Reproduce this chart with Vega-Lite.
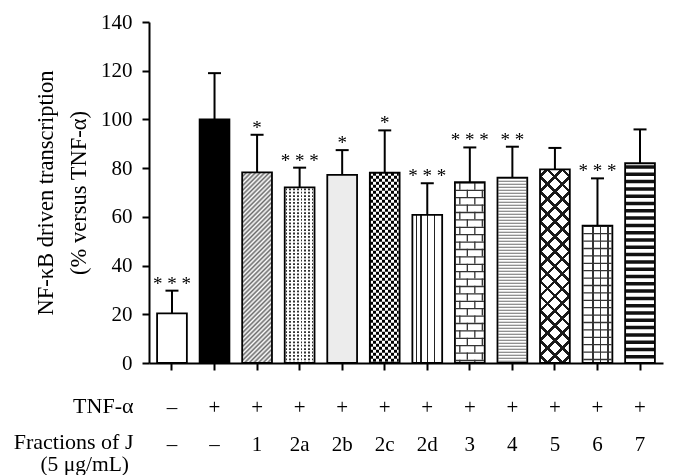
{
  "$schema": "https://vega.github.io/schema/vega-lite/v6.json",
  "width": 514,
  "height": 341,
  "autosize": "none",
  "padding": {"left": 149, "top": 22, "right": 11, "bottom": 112},
  "background": "white",
  "config": {"view": {"stroke": null}, "font": "Liberation Serif"},
  "title": {"text": "(5 μg/mL)", "orient": "bottom", "anchor": "start", "frame": "group", "align": "right", "dx": -20, "offset": 0, "fontSize": 21.5, "fontWeight": "normal", "font": "Liberation Serif", "color": "black", "baseline": "top"},
  "data": {"values": [
    {"group": "–|–", "value": 20.4, "err": 29.7, "stars": "* * *"},
    {"group": "+|–", "value": 100, "err": 119, "stars": ""},
    {"group": "+|1", "value": 78.3, "err": 93.7, "stars": "*"},
    {"group": "+|2a", "value": 72.1, "err": 80.2, "stars": "* * *"},
    {"group": "+|2b", "value": 77.2, "err": 87.4, "stars": "*"},
    {"group": "+|2c", "value": 78.1, "err": 95.5, "stars": "*"},
    {"group": "+|2d", "value": 60.8, "err": 73.8, "stars": "* * *"},
    {"group": "+|3", "value": 74.2, "err": 88.5, "stars": "* * *"},
    {"group": "+|4", "value": 76.1, "err": 88.8, "stars": "* *"},
    {"group": "+|5", "value": 79.5, "err": 88.3, "stars": ""},
    {"group": "+|6", "value": 56.4, "err": 75.8, "stars": "* * *"},
    {"group": "+|7", "value": 82, "err": 95.9, "stars": ""}
  ]},
  "encoding": {
    "x": {
      "field": "group", "type": "nominal",
      "scale": {"domain": ["–|–","+|–","+|1","+|2a","+|2b","+|2c","+|2d","+|3","+|4","+|5","+|6","+|7"], "paddingInner": 0.3, "paddingOuter": 0.19},
      "axis": {
        "title": ["TNF-α", "Fractions of J"],
        "labelExpr": "split(datum.value, '|')",
        "labelAngle": 0, "labelFontSize": 21, "labelLineHeight": 37, "labelPadding": 26, "labelBaseline": "top",
        "labelColor": "black", "tickSize": 7, "tickWidth": 2, "tickColor": "black",
        "domainWidth": 2, "domainColor": "black",
        "titleFontSize": 22, "titleFontWeight": "normal", "titleColor": "black", "titleLineHeight": 36.5,
        "titleAlign": "right", "titleBaseline": "top", "titleX": -16, "titleY": 32
      }
    },
    "y": {
      "field": "value", "type": "quantitative",
      "scale": {"domain": [0, 140], "nice": false},
      "axis": {
        "title": ["NF-κB driven transcription", "(% versus TNF-α)"],
        "values": [0, 20, 40, 60, 80, 100, 120, 140], "grid": false,
        "labelFontSize": 21, "labelPadding": 10, "labelColor": "black",
        "tickSize": 7, "tickWidth": 2, "tickColor": "black",
        "domainWidth": 2, "domainColor": "black",
        "titleFontSize": 22.5, "titleFontWeight": "normal", "titleColor": "black", "titleLineHeight": 33, "titlePadding": 10
      }
    }
  },
  "layer": [
    {
      "mark": {"type": "bar", "strokeWidth": 0},
      "encoding": {
        "fill": {"field": "group", "type": "nominal", "legend": null,
          "scale": {"domain": ["–|–","+|–","+|1","+|2a","+|2b","+|2c","+|2d","+|3","+|4","+|5","+|6","+|7"],
                    "range": ["white","black","white","white","#ececec","white","white","white","white","white","white","white"]}}
      }
    },
    {
      "transform": [{"filter": "datum.group == '+|1'"}],
      "mark": {"type": "bar", "strokeWidth": 0,
        "fill": {"gradient": "linear", "x1": 0, "y1": 0, "x2": 0.1763, "y2": 1.1288, "stops": [
          {"offset": 0, "color": "#6a6a6a"}, {"offset": 0.01042, "color": "#ffffff"},
          {"offset": 0.02083, "color": "#6a6a6a"}, {"offset": 0.03125, "color": "#ffffff"},
          {"offset": 0.04167, "color": "#6a6a6a"}, {"offset": 0.05208, "color": "#ffffff"},
          {"offset": 0.0625, "color": "#6a6a6a"}, {"offset": 0.07292, "color": "#ffffff"},
          {"offset": 0.08333, "color": "#6a6a6a"}, {"offset": 0.09375, "color": "#ffffff"},
          {"offset": 0.10417, "color": "#6a6a6a"}, {"offset": 0.11458, "color": "#ffffff"},
          {"offset": 0.125, "color": "#6a6a6a"}, {"offset": 0.13542, "color": "#ffffff"},
          {"offset": 0.14583, "color": "#6a6a6a"}, {"offset": 0.15625, "color": "#ffffff"},
          {"offset": 0.16667, "color": "#6a6a6a"}, {"offset": 0.17708, "color": "#ffffff"},
          {"offset": 0.1875, "color": "#6a6a6a"}, {"offset": 0.19792, "color": "#ffffff"},
          {"offset": 0.20833, "color": "#6a6a6a"}, {"offset": 0.21875, "color": "#ffffff"},
          {"offset": 0.22917, "color": "#6a6a6a"}, {"offset": 0.23958, "color": "#ffffff"},
          {"offset": 0.25, "color": "#6a6a6a"}, {"offset": 0.26042, "color": "#ffffff"},
          {"offset": 0.27083, "color": "#6a6a6a"}, {"offset": 0.28125, "color": "#ffffff"},
          {"offset": 0.29167, "color": "#6a6a6a"}, {"offset": 0.30208, "color": "#ffffff"},
          {"offset": 0.3125, "color": "#6a6a6a"}, {"offset": 0.32292, "color": "#ffffff"},
          {"offset": 0.33333, "color": "#6a6a6a"}, {"offset": 0.34375, "color": "#ffffff"},
          {"offset": 0.35417, "color": "#6a6a6a"}, {"offset": 0.36458, "color": "#ffffff"},
          {"offset": 0.375, "color": "#6a6a6a"}, {"offset": 0.38542, "color": "#ffffff"},
          {"offset": 0.39583, "color": "#6a6a6a"}, {"offset": 0.40625, "color": "#ffffff"},
          {"offset": 0.41667, "color": "#6a6a6a"}, {"offset": 0.42708, "color": "#ffffff"},
          {"offset": 0.4375, "color": "#6a6a6a"}, {"offset": 0.44792, "color": "#ffffff"},
          {"offset": 0.45833, "color": "#6a6a6a"}, {"offset": 0.46875, "color": "#ffffff"},
          {"offset": 0.47917, "color": "#6a6a6a"}, {"offset": 0.48958, "color": "#ffffff"},
          {"offset": 0.5, "color": "#6a6a6a"}, {"offset": 0.51042, "color": "#ffffff"},
          {"offset": 0.52083, "color": "#6a6a6a"}, {"offset": 0.53125, "color": "#ffffff"},
          {"offset": 0.54167, "color": "#6a6a6a"}, {"offset": 0.55208, "color": "#ffffff"},
          {"offset": 0.5625, "color": "#6a6a6a"}, {"offset": 0.57292, "color": "#ffffff"},
          {"offset": 0.58333, "color": "#6a6a6a"}, {"offset": 0.59375, "color": "#ffffff"},
          {"offset": 0.60417, "color": "#6a6a6a"}, {"offset": 0.61458, "color": "#ffffff"},
          {"offset": 0.625, "color": "#6a6a6a"}, {"offset": 0.63542, "color": "#ffffff"},
          {"offset": 0.64583, "color": "#6a6a6a"}, {"offset": 0.65625, "color": "#ffffff"},
          {"offset": 0.66667, "color": "#6a6a6a"}, {"offset": 0.67708, "color": "#ffffff"},
          {"offset": 0.6875, "color": "#6a6a6a"}, {"offset": 0.69792, "color": "#ffffff"},
          {"offset": 0.70833, "color": "#6a6a6a"}, {"offset": 0.71875, "color": "#ffffff"},
          {"offset": 0.72917, "color": "#6a6a6a"}, {"offset": 0.73958, "color": "#ffffff"},
          {"offset": 0.75, "color": "#6a6a6a"}, {"offset": 0.76042, "color": "#ffffff"},
          {"offset": 0.77083, "color": "#6a6a6a"}, {"offset": 0.78125, "color": "#ffffff"},
          {"offset": 0.79167, "color": "#6a6a6a"}, {"offset": 0.80208, "color": "#ffffff"},
          {"offset": 0.8125, "color": "#6a6a6a"}, {"offset": 0.82292, "color": "#ffffff"},
          {"offset": 0.83333, "color": "#6a6a6a"}, {"offset": 0.84375, "color": "#ffffff"},
          {"offset": 0.85417, "color": "#6a6a6a"}, {"offset": 0.86458, "color": "#ffffff"},
          {"offset": 0.875, "color": "#6a6a6a"}, {"offset": 0.88542, "color": "#ffffff"},
          {"offset": 0.89583, "color": "#6a6a6a"}, {"offset": 0.90625, "color": "#ffffff"},
          {"offset": 0.91667, "color": "#6a6a6a"}, {"offset": 0.92708, "color": "#ffffff"},
          {"offset": 0.9375, "color": "#6a6a6a"}, {"offset": 0.94792, "color": "#ffffff"},
          {"offset": 0.95833, "color": "#6a6a6a"}, {"offset": 0.96875, "color": "#ffffff"},
          {"offset": 0.97917, "color": "#6a6a6a"}, {"offset": 0.98958, "color": "#ffffff"},
          {"offset": 1, "color": "#6a6a6a"}
        ]}}
    },
    {
      "transform": [{"filter": "datum.group == '+|2a'"}],
      "mark": {"type": "rule", "strokeWidth": 28, "strokeDash": [1.8, 1.6], "strokeDashOffset": -1, "color": "#333"},
      "encoding": {"y2": {"datum": 0}}
    },
    {
      "transform": [{"filter": "datum.group == '+|2a'"}],
      "mark": {"type": "bar", "strokeWidth": 0,
        "fill": {"gradient": "linear", "x1": 0, "y1": 0, "x2": 1, "y2": 0, "stops": [
          {"offset": 0, "color": "#ffffff"}, {"offset": 0.03, "color": "#ffffff"}, {"offset": 0.03, "color": "rgba(0,0,0,0)"}, {"offset": 0.09, "color": "rgba(0,0,0,0)"},
          {"offset": 0.09, "color": "#ffffff"}, {"offset": 0.155, "color": "#ffffff"}, {"offset": 0.155, "color": "rgba(0,0,0,0)"}, {"offset": 0.215, "color": "rgba(0,0,0,0)"},
          {"offset": 0.215, "color": "#ffffff"}, {"offset": 0.28, "color": "#ffffff"}, {"offset": 0.28, "color": "rgba(0,0,0,0)"}, {"offset": 0.34, "color": "rgba(0,0,0,0)"},
          {"offset": 0.34, "color": "#ffffff"}, {"offset": 0.405, "color": "#ffffff"}, {"offset": 0.405, "color": "rgba(0,0,0,0)"}, {"offset": 0.465, "color": "rgba(0,0,0,0)"},
          {"offset": 0.465, "color": "#ffffff"}, {"offset": 0.53, "color": "#ffffff"}, {"offset": 0.53, "color": "rgba(0,0,0,0)"}, {"offset": 0.59, "color": "rgba(0,0,0,0)"},
          {"offset": 0.59, "color": "#ffffff"}, {"offset": 0.655, "color": "#ffffff"}, {"offset": 0.655, "color": "rgba(0,0,0,0)"}, {"offset": 0.715, "color": "rgba(0,0,0,0)"},
          {"offset": 0.715, "color": "#ffffff"}, {"offset": 0.78, "color": "#ffffff"}, {"offset": 0.78, "color": "rgba(0,0,0,0)"}, {"offset": 0.84, "color": "rgba(0,0,0,0)"},
          {"offset": 0.84, "color": "#ffffff"}, {"offset": 0.905, "color": "#ffffff"}, {"offset": 0.905, "color": "rgba(0,0,0,0)"}, {"offset": 0.965, "color": "rgba(0,0,0,0)"},
          {"offset": 0.965, "color": "#ffffff"}, {"offset": 1, "color": "#ffffff"}
        ]}}
    },
    {
      "transform": [{"filter": "datum.group == '+|2c'"}],
      "mark": {"type": "rule", "strokeWidth": 28, "strokeDash": [3, 3], "color": "black"},
      "encoding": {"y2": {"datum": 0}}
    },
    {
      "transform": [{"filter": "datum.group == '+|2c'"}],
      "mark": {"type": "bar", "strokeWidth": 0, "blend": "difference",
        "fill": {"gradient": "linear", "x1": 0, "y1": 0, "x2": 1, "y2": 0, "stops": [
          {"offset": 0, "color": "#ffffff"}, {"offset": 0.1, "color": "#ffffff"}, {"offset": 0.1, "color": "rgba(0,0,0,0)"}, {"offset": 0.2, "color": "rgba(0,0,0,0)"},
          {"offset": 0.2, "color": "#ffffff"}, {"offset": 0.3, "color": "#ffffff"}, {"offset": 0.3, "color": "rgba(0,0,0,0)"}, {"offset": 0.4, "color": "rgba(0,0,0,0)"},
          {"offset": 0.4, "color": "#ffffff"}, {"offset": 0.5, "color": "#ffffff"}, {"offset": 0.5, "color": "rgba(0,0,0,0)"}, {"offset": 0.6, "color": "rgba(0,0,0,0)"},
          {"offset": 0.6, "color": "#ffffff"}, {"offset": 0.7, "color": "#ffffff"}, {"offset": 0.7, "color": "rgba(0,0,0,0)"}, {"offset": 0.8, "color": "rgba(0,0,0,0)"},
          {"offset": 0.8, "color": "#ffffff"}, {"offset": 0.9, "color": "#ffffff"}, {"offset": 0.9, "color": "rgba(0,0,0,0)"}, {"offset": 1, "color": "rgba(0,0,0,0)"}
        ]}}
    },
    {
      "transform": [{"filter": "datum.group == '+|2d'"}],
      "mark": {"type": "bar", "strokeWidth": 0,
        "fill": {"gradient": "linear", "x1": 0, "y1": 0, "x2": 1, "y2": 0, "stops": [
          {"offset": 0.11, "color": "rgba(0,0,0,0)"}, {"offset": 0.11, "color": "#222"}, {"offset": 0.155, "color": "#222"}, {"offset": 0.155, "color": "rgba(0,0,0,0)"},
          {"offset": 0.27, "color": "rgba(0,0,0,0)"}, {"offset": 0.27, "color": "#222"}, {"offset": 0.315, "color": "#222"}, {"offset": 0.315, "color": "rgba(0,0,0,0)"},
          {"offset": 0.495, "color": "rgba(0,0,0,0)"}, {"offset": 0.495, "color": "#222"}, {"offset": 0.54, "color": "#222"}, {"offset": 0.54, "color": "rgba(0,0,0,0)"},
          {"offset": 0.715, "color": "rgba(0,0,0,0)"}, {"offset": 0.715, "color": "#222"}, {"offset": 0.76, "color": "#222"}, {"offset": 0.76, "color": "rgba(0,0,0,0)"}
        ]}}
    },
    {
      "transform": [{"filter": "datum.group == '+|3'"}],
      "mark": {"type": "rule", "strokeWidth": 28, "strokeDash": [1.3, 6.1], "color": "#333"},
      "encoding": {"y2": {"datum": 0}}
    },
    {
      "transform": [{"filter": "datum.group == '+|3'"}],
      "mark": {"type": "rule", "xOffset": -10, "strokeWidth": 1.3, "strokeDash": [7.4, 7.4], "strokeDashOffset": 0, "color": "#333"},
      "encoding": {"y2": {"datum": 0}}
    },
    {
      "transform": [{"filter": "datum.group == '+|3'"}],
      "mark": {"type": "rule", "xOffset": 5, "strokeWidth": 1.3, "strokeDash": [7.4, 7.4], "strokeDashOffset": 0, "color": "#333"},
      "encoding": {"y2": {"datum": 0}}
    },
    {
      "transform": [{"filter": "datum.group == '+|3'"}],
      "mark": {"type": "rule", "xOffset": -2.5, "strokeWidth": 1.3, "strokeDash": [7.4, 7.4], "strokeDashOffset": 7.4, "color": "#333"},
      "encoding": {"y2": {"datum": 0}}
    },
    {
      "transform": [{"filter": "datum.group == '+|3'"}],
      "mark": {"type": "rule", "xOffset": 12.5, "strokeWidth": 1.3, "strokeDash": [7.4, 7.4], "strokeDashOffset": 7.4, "color": "#333"},
      "encoding": {"y2": {"datum": 0}}
    },
    {
      "transform": [{"filter": "datum.group == '+|4'"}],
      "mark": {"type": "rule", "strokeWidth": 28, "strokeDash": [1, 2], "color": "#6e6e6e"},
      "encoding": {"y2": {"datum": 0}}
    },
    {
      "transform": [{"filter": "datum.group == '+|5'"}],
      "mark": {"type": "bar", "strokeWidth": 0,
        "fill": {"gradient": "linear", "x1": 0, "y1": 0, "x2": 0.1734, "y2": 1.1273, "stops": [
          {"offset": 0.025, "color": "rgba(0,0,0,0)"}, {"offset": 0.025, "color": "#1a1a1a"}, {"offset": 0.0417, "color": "#1a1a1a"}, {"offset": 0.0417, "color": "rgba(0,0,0,0)"},
          {"offset": 0.0917, "color": "rgba(0,0,0,0)"}, {"offset": 0.0917, "color": "#1a1a1a"}, {"offset": 0.1083, "color": "#1a1a1a"}, {"offset": 0.1083, "color": "rgba(0,0,0,0)"},
          {"offset": 0.1583, "color": "rgba(0,0,0,0)"}, {"offset": 0.1583, "color": "#1a1a1a"}, {"offset": 0.175, "color": "#1a1a1a"}, {"offset": 0.175, "color": "rgba(0,0,0,0)"},
          {"offset": 0.225, "color": "rgba(0,0,0,0)"}, {"offset": 0.225, "color": "#1a1a1a"}, {"offset": 0.2417, "color": "#1a1a1a"}, {"offset": 0.2417, "color": "rgba(0,0,0,0)"},
          {"offset": 0.2917, "color": "rgba(0,0,0,0)"}, {"offset": 0.2917, "color": "#1a1a1a"}, {"offset": 0.3083, "color": "#1a1a1a"}, {"offset": 0.3083, "color": "rgba(0,0,0,0)"},
          {"offset": 0.3583, "color": "rgba(0,0,0,0)"}, {"offset": 0.3583, "color": "#1a1a1a"}, {"offset": 0.375, "color": "#1a1a1a"}, {"offset": 0.375, "color": "rgba(0,0,0,0)"},
          {"offset": 0.425, "color": "rgba(0,0,0,0)"}, {"offset": 0.425, "color": "#1a1a1a"}, {"offset": 0.4417, "color": "#1a1a1a"}, {"offset": 0.4417, "color": "rgba(0,0,0,0)"},
          {"offset": 0.4917, "color": "rgba(0,0,0,0)"}, {"offset": 0.4917, "color": "#1a1a1a"}, {"offset": 0.5083, "color": "#1a1a1a"}, {"offset": 0.5083, "color": "rgba(0,0,0,0)"},
          {"offset": 0.5583, "color": "rgba(0,0,0,0)"}, {"offset": 0.5583, "color": "#1a1a1a"}, {"offset": 0.575, "color": "#1a1a1a"}, {"offset": 0.575, "color": "rgba(0,0,0,0)"},
          {"offset": 0.625, "color": "rgba(0,0,0,0)"}, {"offset": 0.625, "color": "#1a1a1a"}, {"offset": 0.6417, "color": "#1a1a1a"}, {"offset": 0.6417, "color": "rgba(0,0,0,0)"},
          {"offset": 0.6917, "color": "rgba(0,0,0,0)"}, {"offset": 0.6917, "color": "#1a1a1a"}, {"offset": 0.7083, "color": "#1a1a1a"}, {"offset": 0.7083, "color": "rgba(0,0,0,0)"},
          {"offset": 0.7583, "color": "rgba(0,0,0,0)"}, {"offset": 0.7583, "color": "#1a1a1a"}, {"offset": 0.775, "color": "#1a1a1a"}, {"offset": 0.775, "color": "rgba(0,0,0,0)"},
          {"offset": 0.825, "color": "rgba(0,0,0,0)"}, {"offset": 0.825, "color": "#1a1a1a"}, {"offset": 0.8417, "color": "#1a1a1a"}, {"offset": 0.8417, "color": "rgba(0,0,0,0)"},
          {"offset": 0.8917, "color": "rgba(0,0,0,0)"}, {"offset": 0.8917, "color": "#1a1a1a"}, {"offset": 0.9083, "color": "#1a1a1a"}, {"offset": 0.9083, "color": "rgba(0,0,0,0)"},
          {"offset": 0.9583, "color": "rgba(0,0,0,0)"}, {"offset": 0.9583, "color": "#1a1a1a"}, {"offset": 0.975, "color": "#1a1a1a"}, {"offset": 0.975, "color": "rgba(0,0,0,0)"}
        ]}}
    },
    {
      "transform": [{"filter": "datum.group == '+|5'"}],
      "mark": {"type": "bar", "strokeWidth": 0,
        "fill": {"gradient": "linear", "x1": 0, "y1": 1, "x2": 0.1734, "y2": -0.1273, "stops": [
          {"offset": 0.025, "color": "rgba(0,0,0,0)"}, {"offset": 0.025, "color": "#1a1a1a"}, {"offset": 0.0417, "color": "#1a1a1a"}, {"offset": 0.0417, "color": "rgba(0,0,0,0)"},
          {"offset": 0.0917, "color": "rgba(0,0,0,0)"}, {"offset": 0.0917, "color": "#1a1a1a"}, {"offset": 0.1083, "color": "#1a1a1a"}, {"offset": 0.1083, "color": "rgba(0,0,0,0)"},
          {"offset": 0.1583, "color": "rgba(0,0,0,0)"}, {"offset": 0.1583, "color": "#1a1a1a"}, {"offset": 0.175, "color": "#1a1a1a"}, {"offset": 0.175, "color": "rgba(0,0,0,0)"},
          {"offset": 0.225, "color": "rgba(0,0,0,0)"}, {"offset": 0.225, "color": "#1a1a1a"}, {"offset": 0.2417, "color": "#1a1a1a"}, {"offset": 0.2417, "color": "rgba(0,0,0,0)"},
          {"offset": 0.2917, "color": "rgba(0,0,0,0)"}, {"offset": 0.2917, "color": "#1a1a1a"}, {"offset": 0.3083, "color": "#1a1a1a"}, {"offset": 0.3083, "color": "rgba(0,0,0,0)"},
          {"offset": 0.3583, "color": "rgba(0,0,0,0)"}, {"offset": 0.3583, "color": "#1a1a1a"}, {"offset": 0.375, "color": "#1a1a1a"}, {"offset": 0.375, "color": "rgba(0,0,0,0)"},
          {"offset": 0.425, "color": "rgba(0,0,0,0)"}, {"offset": 0.425, "color": "#1a1a1a"}, {"offset": 0.4417, "color": "#1a1a1a"}, {"offset": 0.4417, "color": "rgba(0,0,0,0)"},
          {"offset": 0.4917, "color": "rgba(0,0,0,0)"}, {"offset": 0.4917, "color": "#1a1a1a"}, {"offset": 0.5083, "color": "#1a1a1a"}, {"offset": 0.5083, "color": "rgba(0,0,0,0)"},
          {"offset": 0.5583, "color": "rgba(0,0,0,0)"}, {"offset": 0.5583, "color": "#1a1a1a"}, {"offset": 0.575, "color": "#1a1a1a"}, {"offset": 0.575, "color": "rgba(0,0,0,0)"},
          {"offset": 0.625, "color": "rgba(0,0,0,0)"}, {"offset": 0.625, "color": "#1a1a1a"}, {"offset": 0.6417, "color": "#1a1a1a"}, {"offset": 0.6417, "color": "rgba(0,0,0,0)"},
          {"offset": 0.6917, "color": "rgba(0,0,0,0)"}, {"offset": 0.6917, "color": "#1a1a1a"}, {"offset": 0.7083, "color": "#1a1a1a"}, {"offset": 0.7083, "color": "rgba(0,0,0,0)"},
          {"offset": 0.7583, "color": "rgba(0,0,0,0)"}, {"offset": 0.7583, "color": "#1a1a1a"}, {"offset": 0.775, "color": "#1a1a1a"}, {"offset": 0.775, "color": "rgba(0,0,0,0)"},
          {"offset": 0.825, "color": "rgba(0,0,0,0)"}, {"offset": 0.825, "color": "#1a1a1a"}, {"offset": 0.8417, "color": "#1a1a1a"}, {"offset": 0.8417, "color": "rgba(0,0,0,0)"},
          {"offset": 0.8917, "color": "rgba(0,0,0,0)"}, {"offset": 0.8917, "color": "#1a1a1a"}, {"offset": 0.9083, "color": "#1a1a1a"}, {"offset": 0.9083, "color": "rgba(0,0,0,0)"},
          {"offset": 0.9583, "color": "rgba(0,0,0,0)"}, {"offset": 0.9583, "color": "#1a1a1a"}, {"offset": 0.975, "color": "#1a1a1a"}, {"offset": 0.975, "color": "rgba(0,0,0,0)"}
        ]}}
    },
    {
      "transform": [{"filter": "datum.group == '+|6'"}],
      "mark": {"type": "rule", "strokeWidth": 28, "strokeDash": [1.3, 6.1], "color": "#333"},
      "encoding": {"y2": {"datum": 0}}
    },
    {
      "transform": [{"filter": "datum.group == '+|6'"}],
      "mark": {"type": "bar", "strokeWidth": 0,
        "fill": {"gradient": "linear", "x1": 0, "y1": 0, "x2": 1, "y2": 0, "stops": [
          {"offset": 0.327, "color": "rgba(0,0,0,0)"}, {"offset": 0.327, "color": "#333"}, {"offset": 0.371, "color": "#333"}, {"offset": 0.371, "color": "rgba(0,0,0,0)"},
          {"offset": 0.579, "color": "rgba(0,0,0,0)"}, {"offset": 0.579, "color": "#333"}, {"offset": 0.623, "color": "#333"}, {"offset": 0.623, "color": "rgba(0,0,0,0)"},
          {"offset": 0.831, "color": "rgba(0,0,0,0)"}, {"offset": 0.831, "color": "#333"}, {"offset": 0.875, "color": "#333"}, {"offset": 0.875, "color": "rgba(0,0,0,0)"}
        ]}}
    },
    {
      "transform": [{"filter": "datum.group == '+|7'"}],
      "mark": {"type": "rule", "strokeWidth": 28, "strokeDash": [3.5, 3.8], "strokeDashOffset": -2, "color": "#111"},
      "encoding": {"y2": {"datum": 0}}
    },
    {
      "mark": {"type": "bar", "fillOpacity": 0, "stroke": "black", "strokeWidth": 1.8}
    },
    {
      "mark": {"type": "rule", "strokeWidth": 2, "color": "black"},
      "encoding": {"y2": {"field": "err"}}
    },
    {
      "mark": {"type": "tick", "size": 13, "thickness": 2, "color": "black", "opacity": 1},
      "encoding": {"y": {"field": "err", "type": "quantitative", "scale": {"domain": [0, 140], "nice": false},
        "axis": {
          "title": ["NF-κB driven transcription", "(% versus TNF-α)"],
          "values": [0, 20, 40, 60, 80, 100, 120, 140], "grid": false,
          "labelFontSize": 21, "labelPadding": 10, "labelColor": "black",
          "tickSize": 7, "tickWidth": 2, "tickColor": "black",
          "domainWidth": 2, "domainColor": "black",
          "titleFontSize": 22.5, "titleFontWeight": "normal", "titleColor": "black", "titleLineHeight": 33, "titlePadding": 10
        }}}
    },
    {
      "mark": {"type": "text", "baseline": "alphabetic", "dy": -1, "fontSize": 19, "font": "Liberation Serif", "color": "black"},
      "encoding": {
        "y": {"field": "err", "type": "quantitative", "scale": {"domain": [0, 140], "nice": false},
          "axis": {
            "title": ["NF-κB driven transcription", "(% versus TNF-α)"],
            "values": [0, 20, 40, 60, 80, 100, 120, 140], "grid": false,
            "labelFontSize": 21, "labelPadding": 10, "labelColor": "black",
            "tickSize": 7, "tickWidth": 2, "tickColor": "black",
            "domainWidth": 2, "domainColor": "black",
            "titleFontSize": 22.5, "titleFontWeight": "normal", "titleColor": "black", "titleLineHeight": 33, "titlePadding": 10
          }},
        "text": {"field": "stars"}
      }
    }
  ]
}
